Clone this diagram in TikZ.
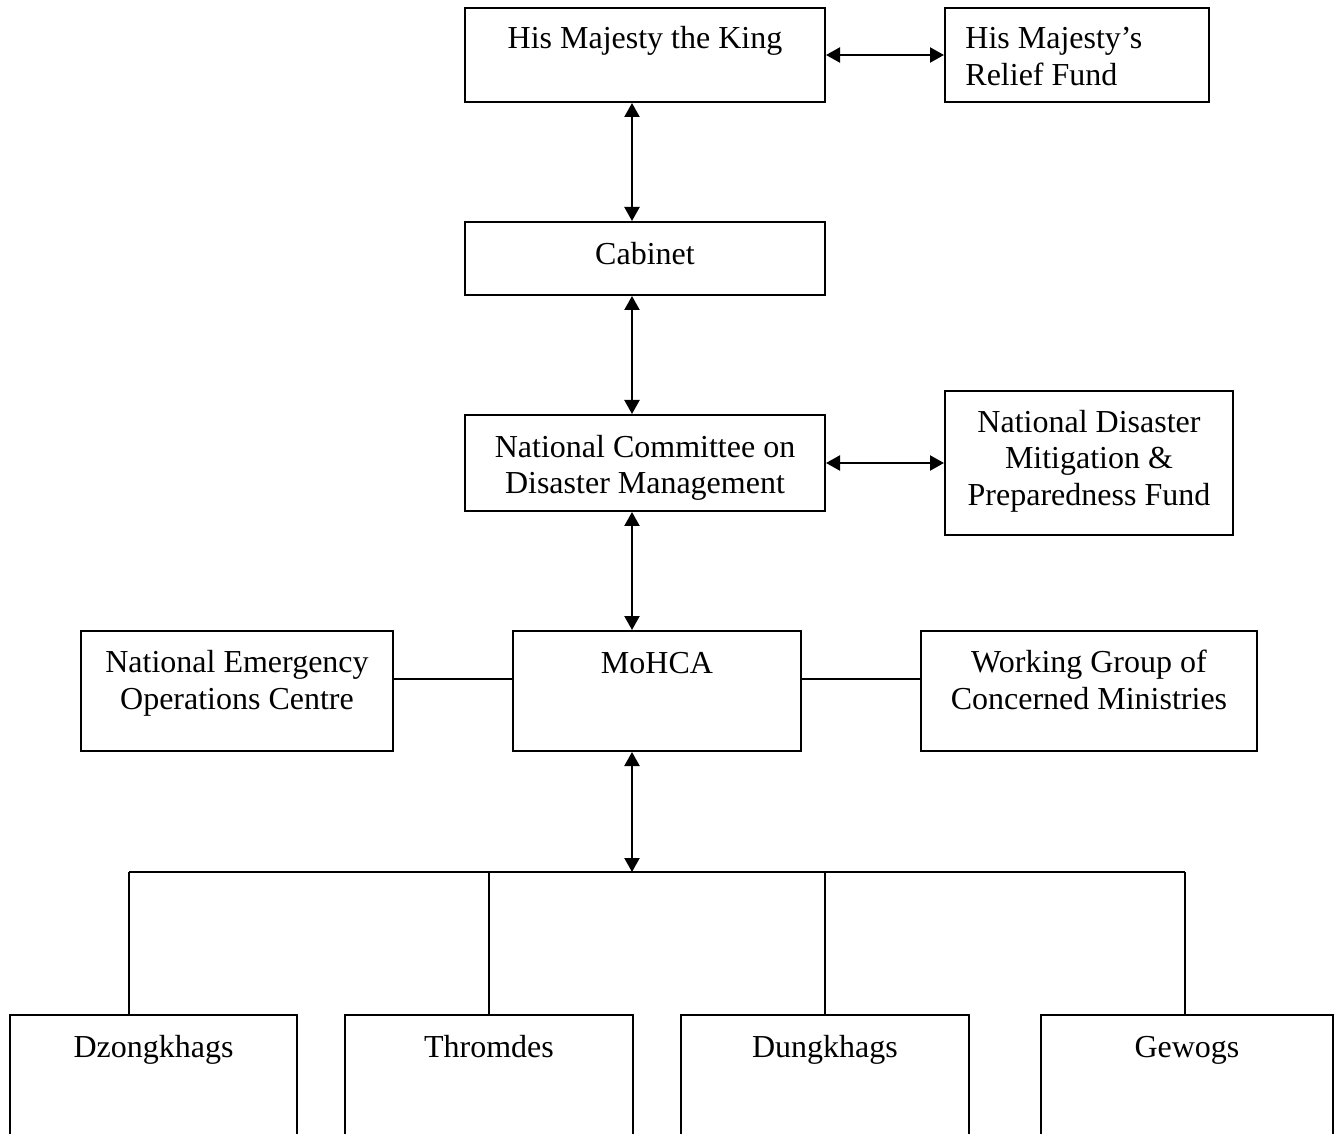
\documentclass[tikz,border=0pt]{standalone}
\usepackage{fontspec}
\setmainfont{Liberation Serif}
\usetikzlibrary{arrows.meta}
\begin{document}
\begin{tikzpicture}[x=0.5pt,y=-0.5pt,
  box/.style={draw, line width=1pt, inner sep=0pt},
  txt/.style={font=\fontsize{16}{18.25}\selectfont, inner sep=0pt, align=center},
  conn/.style={line width=0.9pt},
  dbl/.style={line width=1.1pt, {Triangle[length=7pt,width=7.5pt]}-{Triangle[length=7pt,width=7.5pt]}}]
\useasboundingbox (0,0) rectangle (1335,1134);
\clip (0,0) rectangle (1335,1134);
% boxes
\node[box, minimum width=180pt, minimum height=47pt] (king) at (645,55) {};
\node[box, minimum width=132pt, minimum height=47pt] (relief) at (1077,55) {};
\node[box, minimum width=180pt, minimum height=36.5pt] (cabinet) at (645,258.5) {};
\node[box, minimum width=180pt, minimum height=48pt] (ncdm) at (645,463) {};
\node[box, minimum width=144pt, minimum height=72pt] (ndmpf) at (1089,463) {};
\node[box, minimum width=144pt, minimum height=60pt] (mohca) at (657,691) {};
\node[box, minimum width=156pt, minimum height=60pt] (neoc) at (237,691) {};
\node[box, minimum width=168pt, minimum height=60pt] (wg) at (1089,691) {};
\node[box, minimum width=143.5pt, minimum height=80pt] (dz) at (153.5,1095) {};
\node[box, minimum width=144pt, minimum height=80pt] (thr) at (489,1095) {};
\node[box, minimum width=144pt, minimum height=80pt] (dun) at (825,1095) {};
\node[box, minimum width=146pt, minimum height=80pt] (gew) at (1187,1095) {};
% texts
\node[txt, anchor=base] (kingt) at (645,49) {His Majesty the King};
\node[txt, align=left, anchor=west] (relieft) at (965,59.7) {\strut His Majesty’s\\\strut Relief Fund};
\node[txt, anchor=base] (cabinett) at (645,265) {Cabinet};
\node[txt] (ncdmt) at (645,468.2) {\strut National Committee on\\\strut Disaster Management};
\node[txt] (ndmpft) at (1089,461.7) {\strut National Disaster\\\strut Mitigation \&\\\strut Preparedness Fund};
\node[txt, anchor=base] (mohcat) at (657,673) {MoHCA};
\node[txt] (neoct) at (237,683.7) {\strut National Emergency\\\strut Operations Centre};
\node[txt] (wgt) at (1089,683.7) {\strut Working Group of\\\strut Concerned Ministries};
\node[txt, anchor=base] (dzt) at (153.5,1057) {Dzongkhags};
\node[txt, anchor=base] (thrt) at (489,1057) {Thromdes};
\node[txt, anchor=base] (dunt) at (825,1057) {Dungkhags};
\node[txt, anchor=base] (gewt) at (1187,1057) {Gewogs};
% connectors
\coordinate (bus) at (632,872);
\coordinate (busL) at (129,872);
\coordinate (busR) at (1185,872);
\draw[dbl] (king.east) -- (relief.west);
\draw[dbl] (king.south -| bus) -- (cabinet.north -| bus);
\draw[dbl] (cabinet.south -| bus) -- (ncdm.north -| bus);
\draw[dbl] (ncdm.east) -- (ndmpf.west);
\draw[dbl] (ncdm.south -| bus) -- (mohca.north -| bus);
\draw[conn] ([yshift=6pt]neoc.east) -- ([yshift=6pt]mohca.west);
\draw[conn] ([yshift=6pt]mohca.east) -- ([yshift=6pt]wg.west);
\draw[dbl] (mohca.south -| bus) -- (bus);
\draw[conn] (busL) -- (busR);
\draw[conn] (busL) -- (busL |- dz.north);
\draw[conn] (thr.north) -- (thr.north |- bus);
\draw[conn] (dun.north) -- (dun.north |- bus);
\draw[conn] (busR) -- (busR |- gew.north);
\end{tikzpicture}
\end{document}
